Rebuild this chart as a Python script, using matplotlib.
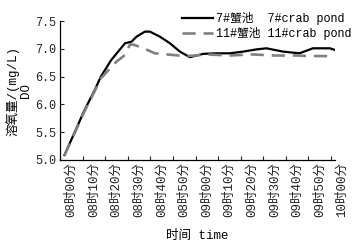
import matplotlib.pyplot as plt
import matplotlib.transforms as mtransforms

plt.rcParams['font.family'] = ['Liberation Mono', 'Noto Sans CJK SC']

# minutes after 08:00 and dissolved oxygen (mg/L)
t7 = [2, 10.9, 15.4, 18.1, 22.7, 28.8, 31.7, 33.9, 37.6, 39.8, 44.2, 48.7, 53.1,
      57.5, 63.4, 69.3, 75.2, 81, 87, 91.4, 98.8, 106, 112, 119.5, 121.7]
do7 = [5.09, 5.90, 6.26, 6.50, 6.80, 7.10, 7.13, 7.22, 7.31, 7.31, 7.22, 7.10, 6.95,
       6.85, 6.91, 6.92, 6.92, 6.95, 6.99, 7.01, 6.95, 6.92, 7.01, 7.01, 6.98]

t11 = [2, 10.9, 15.4, 18.1, 22, 25, 28.8, 31, 33, 37, 42, 50, 55, 60, 65, 70,
       75, 80, 85, 90, 95, 100, 105, 110, 115, 120]
do11 = [5.08, 5.88, 6.24, 6.47, 6.64, 6.77, 6.89, 7.08, 7.07, 7.01, 6.92, 6.89, 6.87,
        6.88, 6.90, 6.89, 6.88, 6.89, 6.90, 6.89, 6.88, 6.88, 6.88, 6.87, 6.87, 6.87]

labels = ['08时00分', '08时10分', '08时20分', '08时30分', '08时40分', '08时50分',
          '09时00分', '09时10分', '09时20分', '09时30分', '09时40分', '09时50分',
          '10时00分']

fig = plt.figure(figsize=(3.57, 2.45), dpi=100)
ax = fig.add_axes([0.168, 0.347, 0.77, 0.567])

ax.plot(t7, do7, c='black', lw=1.6, label='7#蟹池  7#crab pond')
ax.plot(t11, do11, c='#808080', lw=1.9, dashes=(5, 3), label='11#蟹池 11#crab pond')

ax.set_xlim(0, 121.7)
ax.set_ylim(5.0, 7.5)
ax.set_yticks([5.0, 5.5, 6.0, 6.5, 7.0, 7.5])
ax.set_yticklabels(['5.0', '5.5', '6.0', '6.5', '7.0', '7.5'])
ax.set_xticks(range(0, 121, 10))
ax.set_xticklabels([])
ax.tick_params(direction='in', length=3, width=0.8, labelsize=8.5, colors='#222222',
               pad=3)

for s in ['top', 'right']:
    ax.spines[s].set_visible(False)
for s in ['left', 'bottom']:
    ax.spines[s].set_linewidth(0.9)

trans = mtransforms.blended_transform_factory(ax.transData, ax.transAxes)
for i, lab in enumerate(labels):
    ax.text(10 * i + 5, -0.015, lab, transform=trans, rotation=90, ha='center',
            va='top', fontsize=9, clip_on=False, color='#222222')

ax.set_ylabel('溶氧量/(mg/L)\nDO', fontsize=9, labelpad=2, linespacing=1.05)
ax.text(0.5, -0.55, '时间 time', transform=ax.transAxes, ha='center', va='center',
        fontsize=9)

ax.legend(loc='upper right', bbox_to_anchor=(1.005, 0.98),
          bbox_transform=fig.transFigure, frameon=False, fontsize=8.5,
          handlelength=2.6, handletextpad=0.3, labelspacing=0.2, borderpad=0.1)

plt.savefig('out.png', dpi=100)
